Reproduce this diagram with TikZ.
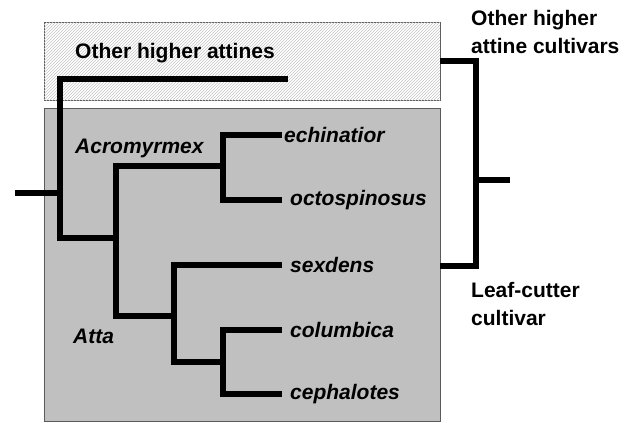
\documentclass[tikz,border=0pt]{standalone}
\usepackage{fontspec}
\setmainfont{Liberation Sans}
\usetikzlibrary{patterns}
\definecolor{boxgray}{RGB}{192,192,192}
\definecolor{boxline}{RGB}{90,90,90}
\newcommand{\labelsize}{\fontsize{21}{28}\selectfont}
\tikzset{
	branch/.style={line width=6pt, line join=miter},
	taxon/.style={anchor=west, inner xsep=#1, inner ysep=0pt, font=\labelsize\bfseries\itshape},
	taxon/.default=8pt,
	grouplabel/.style={anchor=west, inner sep=0pt, font=\labelsize\bfseries, align=left}
}
\begin{document}
\begin{tikzpicture}[x=1pt, y=-1pt]
	\useasboundingbox (0,0) rectangle (633,423);

	% clade boxes
	\draw[boxline, fill=white, postaction={pattern=north east lines, pattern color=gray!45}] (44,22) rectangle (440,100);
	\draw[boxline, fill=boxgray] (44,108) rectangle (440,421);

	% inner points of the ant tree
	\coordinate (root) at (15,193);
	\coordinate (base) at (60,193);
	\coordinate (othtip) at (288,79);
	\coordinate (cut) at (116,238);
	\coordinate (acro) at (223,166);
	\coordinate (atta) at (174,316);
	\coordinate (ceco) at (223,362);

	% species
	\foreach \name/\y/\gap in {echinatior/135/2pt, octospinosus/200/8pt, sexdens/265/8pt, columbica/330/8pt, cephalotes/394/8pt}{
		\node[taxon=\gap] (\name) at (282,\y) {\name};
	}

	\draw[branch] (root) -- (base) |- (othtip);
	\draw[branch] (base) |- (cut);
	\draw[branch] (cut) |- (acro);
	\draw[branch] (cut) |- (atta);
	\draw[branch] (acro) |- (echinatior.west);
	\draw[branch] (acro) |- (octospinosus.west);
	\draw[branch] (atta) |- (sexdens.west);
	\draw[branch] (atta) |- (ceco);
	\draw[branch] (ceco) |- (columbica.west);
	\draw[branch] (ceco) |- (cephalotes.west);

	% group names
	\node[grouplabel] (othlab) at (75,53) {Other higher attines};
	\node[grouplabel, font=\labelsize\bfseries\itshape] (acrolab) at (75,148) {Acromyrmex};
	\node[grouplabel, font=\labelsize\bfseries\itshape] (attalab) at (73,336) {Atta};

	% cultivar tree
	\coordinate (upper) at (440,61);
	\coordinate (lower) at (440,266);
	\coordinate (cult) at (476,180);
	\coordinate (cultroot) at (510,180);
	\draw[branch] (upper) -| (cult) |- (lower);
	\draw[branch] (cult) -- (cultroot);

	\node[grouplabel] (othcult) at (471,32) {Other higher\\attine cultivars};
	\node[grouplabel] (leafcult) at (471,304) {Leaf-cutter\\cultivar};
\end{tikzpicture}
\end{document}
